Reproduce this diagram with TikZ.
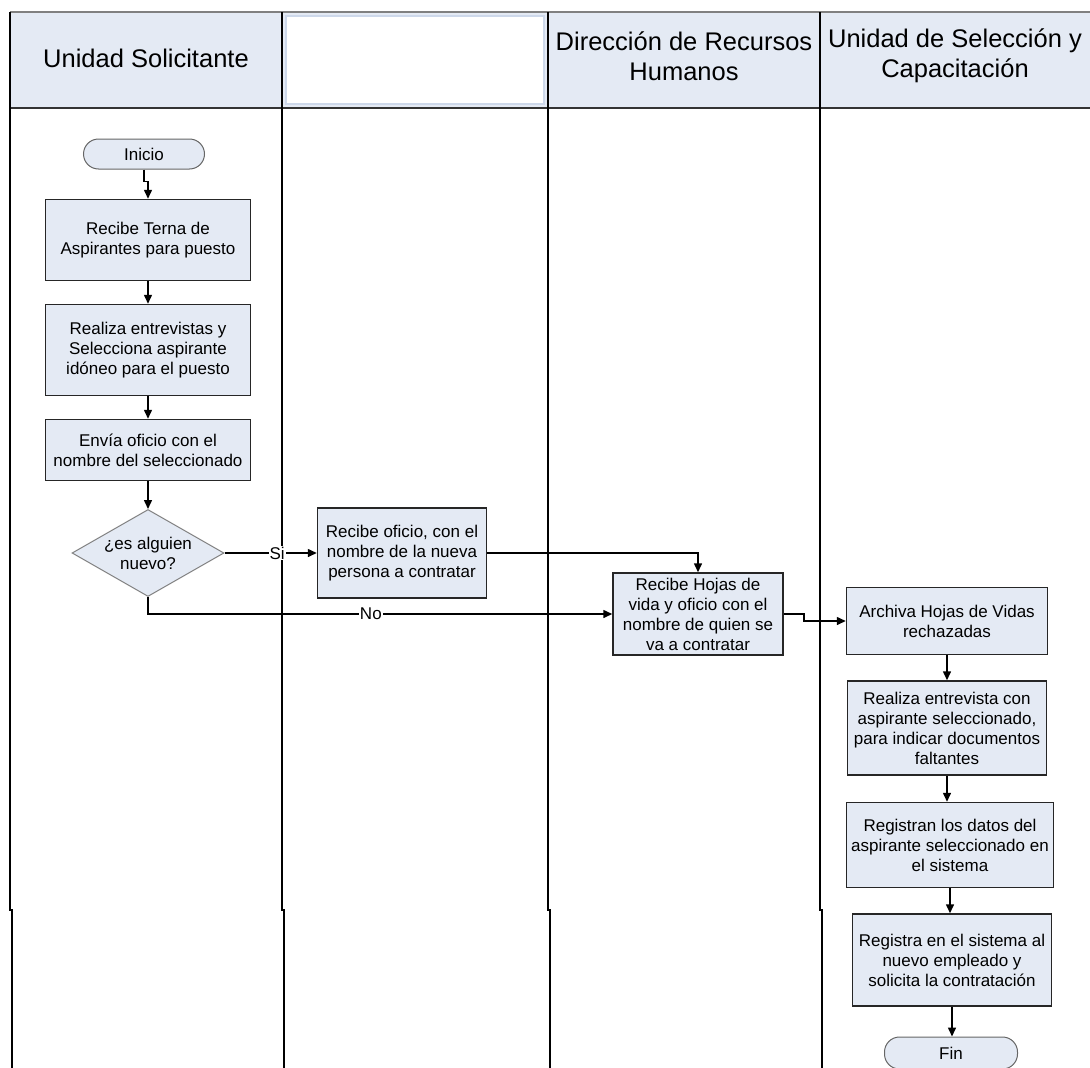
\documentclass[tikz,border=0pt]{standalone}
\usepackage{fontspec}
\setmainfont{Liberation Sans}
\usetikzlibrary{shapes.geometric, arrows.meta}
\definecolor{celeste}{RGB}{228,234,244}
\definecolor{bordeceleste}{RGB}{205,216,234}

\begin{document}
\begin{tikzpicture}[x=1pt, y=-1pt,
    proceso/.style={rectangle, draw=black!85, fill=celeste, line width=1.5pt,
        align=center, inner sep=1pt, font=\fontsize{17}{20}\selectfont},
    terminal/.style={rectangle, rounded corners=15pt, draw=black!60, fill=celeste,
        line width=1pt, font=\fontsize{17}{20}\selectfont},
    decision/.style={diamond, aspect=1.75, draw=gray, fill=celeste, line width=1pt,
        inner sep=0pt, minimum width=152, minimum height=87, align=center,
        font=\fontsize{17}{20}\selectfont},
    titulo/.style={align=center, font=\fontsize{25.5}{30}\selectfont},
    etiqueta/.style={fill=white, inner sep=1pt, font=\fontsize{17}{20}\selectfont},
    flecha/.style={-{Triangle[length=9pt,width=8pt]}, line width=1.5pt}]
    \useasboundingbox (0,0) rectangle (1090,1068);
    % Header
    \fill[celeste] (10,12) rectangle (1090,108);
    \filldraw[fill=white, draw=bordeceleste, line width=1.5pt] (286,16) rectangle (544,104);
    \draw[gray, line width=1.5pt] (10,12) -- (1090,12);
    \draw[black!80, line width=2pt] (10,108) -- (1090,108);
    \foreach \x in {10,282,548,820} {
        \draw[line width=1.5pt] (\x,12) -- (\x,910) -- (\x+2,910) -- (\x+2,1068);
    }
    \node[titulo] (Carril-1) at (146,58) {Unidad Solicitante};
    \node[titulo] (Carril-3) at (684,56) {Dirección de Recursos\\Humanos};
    \node[titulo] (Carril-4) at (955,56) {Unidad de Selección y\\Capacitación};
    % Unidad Solicitante
    \node[terminal, minimum width=121, minimum height=30] (Inicio) at (144,154) {Inicio};
    \node[proceso, minimum width=205, minimum height=81] (Paso-1) at (148,240)
        {Recibe Terna de\\Aspirantes para puesto};
    \node[proceso, minimum width=205, minimum height=91] (Paso-2) at (148,350)
        {Realiza entrevistas y\\Selecciona aspirante\\idóneo para el puesto};
    \node[proceso, minimum width=205, minimum height=61] (Paso-3) at (148,450)
        {Envía oficio con el\\nombre del seleccionado};
    \node[decision] (Nuevo) at (148,553) {¿es alguien\\nuevo?};
    % Second lane
    \node[proceso, minimum width=169, minimum height=90] (Paso-4) at (402,553)
        {Recibe oficio, con el\\nombre de la nueva\\persona a contratar};
    % Direccion de Recursos Humanos
    \node[proceso, minimum width=170, minimum height=82] (Paso-5) at (698,614)
        {Recibe Hojas de\\vida y oficio con el\\nombre de quien se\\va a contratar};
    % Unidad de Seleccion y Capacitacion
    \node[proceso, minimum width=201, minimum height=67] (Paso-6) at (947,621)
        {Archiva Hojas de Vidas\\rechazadas};
    \node[proceso, minimum width=199, minimum height=94] (Paso-7) at (947,728)
        {Realiza entrevista con\\aspirante seleccionado,\\para indicar documentos\\faltantes};
    \node[proceso, minimum width=207, minimum height=85] (Paso-8) at (950,845)
        {Registran los datos del\\aspirante seleccionado en\\el sistema};
    \node[proceso, minimum width=199, minimum height=92] (Paso-9) at (952,960)
        {Registra en el sistema al\\nuevo empleado y\\solicita la contratación};
    \node[terminal, minimum width=133, minimum height=32] (Fin) at (951,1053) {Fin};
    % Arrows
    \draw[flecha] (Inicio.south) -- ++(0,12) -| (Paso-1.north);
    \foreach \a/\b in {Paso-1/Paso-2, Paso-2/Paso-3, Paso-3/Nuevo,
                       Paso-6/Paso-7, Paso-7/Paso-8, Paso-8/Paso-9, Paso-9/Fin} {
        \draw[flecha] (\a.south) -- (\a.south |- \b.north);
    }
    \draw[flecha] (Nuevo.east) -- node[etiqueta, pos=0.57] {Si} (Paso-4.west);
    \draw[flecha] (Nuevo.south) |- node[etiqueta, pos=0.74] {No} (Paso-5.west);
    \draw[flecha] (Paso-4.east) -| (Paso-5.north);
    \draw[flecha] (Paso-5.east) -- ++(20,0) |- (Paso-6.west);
\end{tikzpicture}
\end{document}
